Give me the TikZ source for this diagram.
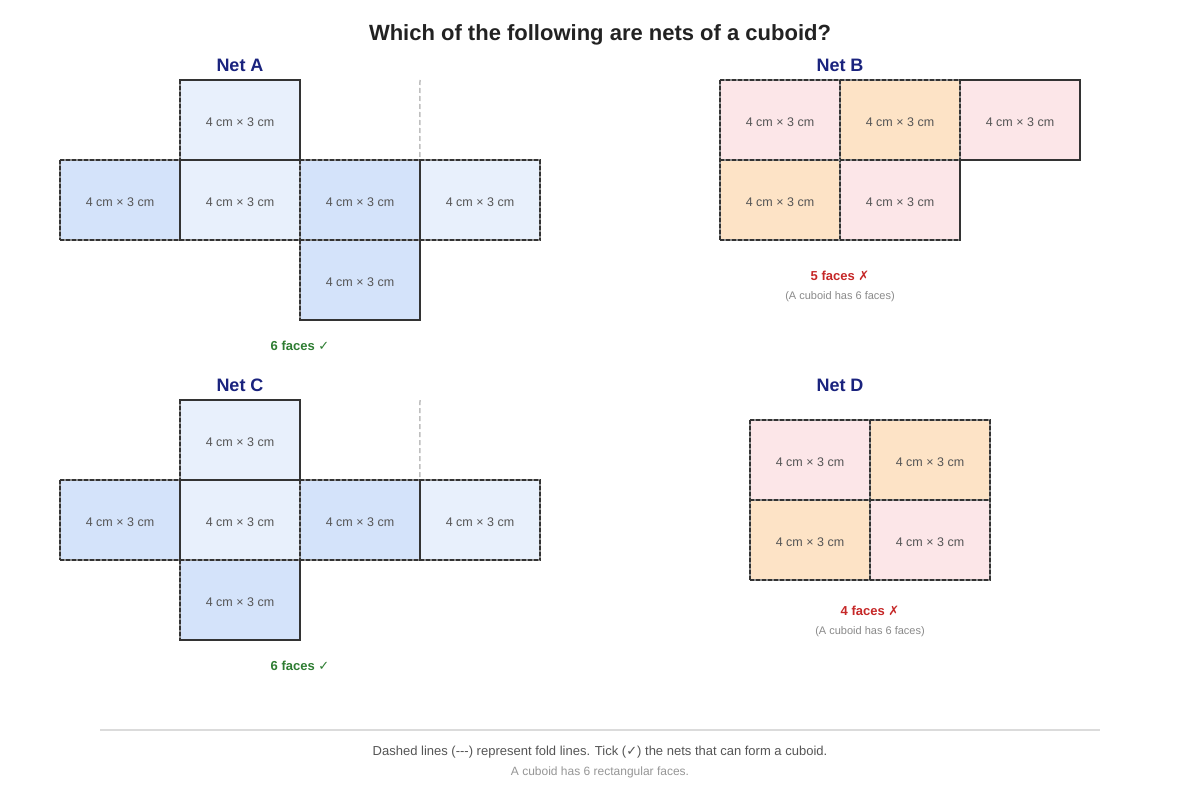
\documentclass[tikz,border=0pt]{standalone}
\usepackage{fontspec}
\setmainfont{Liberation Sans}
\newfontfamily\symfont{DejaVu Sans}
\definecolor{titlecol}{HTML}{222222}
\definecolor{netcol}{HTML}{1A237E}
\definecolor{celltext}{HTML}{555555}
\definecolor{blueL}{HTML}{E8F0FC}
\definecolor{blueD}{HTML}{D4E3FA}
\definecolor{pinkc}{HTML}{FCE6E8}
\definecolor{peachc}{HTML}{FDE3C6}
\definecolor{okcol}{HTML}{2E7D32}
\definecolor{badcol}{HTML}{C62828}
\definecolor{notecol}{HTML}{8A8A8A}
\definecolor{footcol}{HTML}{555555}
\definecolor{edgedark}{HTML}{333333}
\definecolor{edgelight}{HTML}{8A8A8A}
\newcommand\foldedge[2]{\draw[foldbase] (#1) -- (#2); \draw[folddash] (#1) -- (#2);}
\newcommand\solidedge[2]{\draw[solidline] (#1) -- (#2);}
\begin{document}
\begin{tikzpicture}[x=1pt,y=-1pt,
  cell/.style={minimum width=120pt,minimum height=80pt,inner sep=0pt,text=celltext,font=\fontsize{12.5}{14}\selectfont,text height=13pt,text depth=0pt},
  foldbase/.style={draw=edgelight,line width=2pt},
  folddash/.style={draw=edgedark,line width=2pt,dash pattern=on 4pt off 2pt},
  solidline/.style={draw=edgedark,line width=2pt,line cap=rect},
  guide/.style={draw=black!25,line width=1.5pt,dash pattern=on 5pt off 3pt},
  netlabel/.style={text=netcol,font=\bfseries\fontsize{18}{20}\selectfont},
  okstyle/.style={text=okcol,font=\bfseries\fontsize{13}{15}\selectfont},
  badstyle/.style={text=badcol,font=\bfseries\fontsize{13}{15}\selectfont},
  notestyle/.style={text=notecol,font=\fontsize{11}{13}\selectfont}]
\useasboundingbox[fill=white] (0,0) rectangle (1200,800);

\node[text=titlecol,font=\bfseries\fontsize{22}{26}\selectfont] (title) at (600,35) {Which of the following are nets of a cuboid?};

% ---------- Net A ----------
\node[netlabel] (labA) at (240,65) {Net A};
\node[cell,fill=blueL] (a1) at (240,120) {4 cm × 3 cm};
\node[cell,fill=blueD] (a2) at (120,200) {4 cm × 3 cm};
\node[cell,fill=blueL] (a3) at (240,200) {4 cm × 3 cm};
\node[cell,fill=blueD] (a4) at (360,200) {4 cm × 3 cm};
\node[cell,fill=blueL] (a5) at (480,200) {4 cm × 3 cm};
\node[cell,fill=blueD] (a6) at (360,280) {4 cm × 3 cm};
\coordinate (ag) at (420,80);
\draw[guide] (ag) -- (a5.north west);
\foldedge{a1.north west}{a1.south west}
\foldedge{a2.north west}{a2.north east}
\foldedge{a2.north west}{a2.south west}
\foldedge{a2.south west}{a3.south east}
\foldedge{a4.north west}{a5.north east}
\foldedge{a4.north west}{a4.south west}
\foldedge{a5.south west}{a5.south east}
\foldedge{a5.north east}{a5.south east}
\foldedge{a6.north west}{a6.north east}
\foldedge{a6.north west}{a6.south west}
\solidedge{a1.north west}{a1.north east}
\solidedge{a1.north east}{a1.south east}
\solidedge{a1.south west}{a1.south east}
\solidedge{a2.north east}{a2.south east}
\solidedge{a4.north east}{a4.south east}
\solidedge{a6.north east}{a6.south east}
\solidedge{a6.south west}{a6.south east}
\node[okstyle] (okA) at (300,346) {6 faces {\symfont\mdseries ✓}};

% ---------- Net B ----------
\node[netlabel] (labB) at (840,65) {Net B};
\node[cell,fill=pinkc] (b1) at (780,120) {4 cm × 3 cm};
\node[cell,fill=peachc] (b2) at (900,120) {4 cm × 3 cm};
\node[cell,fill=pinkc] (b3) at (1020,120) {4 cm × 3 cm};
\node[cell,fill=peachc] (b4) at (780,200) {4 cm × 3 cm};
\node[cell,fill=pinkc] (b5) at (900,200) {4 cm × 3 cm};
\foldedge{b1.north west}{b2.north east}
\foldedge{b1.north west}{b4.south west}
\foldedge{b1.north east}{b4.south east}
\foldedge{b2.north east}{b2.south east}
\foldedge{b1.south west}{b2.south east}
\foldedge{b4.south west}{b5.south east}
\solidedge{b3.north west}{b3.north east}
\solidedge{b3.north east}{b3.south east}
\solidedge{b3.south west}{b3.south east}
\solidedge{b5.north east}{b5.south east}
\node[badstyle] (badB) at (840,276) {5 faces {\symfont ✗}};
\node[notestyle] (noteB) at (840,297) {(A cuboid has 6 faces)};

% ---------- Net C ----------
\node[netlabel] (labC) at (240,385) {Net C};
\node[cell,fill=blueL] (c1) at (240,440) {4 cm × 3 cm};
\node[cell,fill=blueD] (c2) at (120,520) {4 cm × 3 cm};
\node[cell,fill=blueL] (c3) at (240,520) {4 cm × 3 cm};
\node[cell,fill=blueD] (c4) at (360,520) {4 cm × 3 cm};
\node[cell,fill=blueL] (c5) at (480,520) {4 cm × 3 cm};
\node[cell,fill=blueD] (c6) at (240,600) {4 cm × 3 cm};
\coordinate (cg) at (420,400);
\draw[guide] (cg) -- (c5.north west);
\foldedge{c1.north west}{c1.south west}
\foldedge{c2.north west}{c2.north east}
\foldedge{c2.north west}{c2.south west}
\foldedge{c2.south west}{c5.south east}
\foldedge{c4.north west}{c5.north east}
\foldedge{c4.north west}{c4.south west}
\foldedge{c5.north east}{c5.south east}
\foldedge{c6.north west}{c6.south west}
\solidedge{c1.north west}{c1.north east}
\solidedge{c1.north east}{c1.south east}
\solidedge{c1.south west}{c1.south east}
\solidedge{c2.north east}{c2.south east}
\solidedge{c4.north east}{c4.south east}
\solidedge{c6.north east}{c6.south east}
\solidedge{c6.south west}{c6.south east}
\node[okstyle] (okC) at (300,666) {6 faces {\symfont\mdseries ✓}};

% ---------- Net D ----------
\node[netlabel] (labD) at (840,385) {Net D};
\node[cell,fill=pinkc] (d1) at (810,460) {4 cm × 3 cm};
\node[cell,fill=peachc] (d2) at (930,460) {4 cm × 3 cm};
\node[cell,fill=peachc] (d3) at (810,540) {4 cm × 3 cm};
\node[cell,fill=pinkc] (d4) at (930,540) {4 cm × 3 cm};
\foldedge{d1.north west}{d2.north east}
\foldedge{d1.south west}{d2.south east}
\foldedge{d3.south west}{d4.south east}
\foldedge{d1.north west}{d3.south west}
\foldedge{d1.north east}{d3.south east}
\foldedge{d2.north east}{d4.south east}
\node[badstyle] (badD) at (870,611) {4 faces {\symfont ✗}};
\node[notestyle] (noteD) at (870,632) {(A cuboid has 6 faces)};

% ---------- footer ----------
\coordinate (sepL) at (100,730);
\coordinate (sepR) at (1100,730);
\draw[draw=black!14,line width=2pt] (sepL) -- (sepR);
\node[text=footcol,font=\fontsize{13}{15}\selectfont] (foot1) at (600,752) {Dashed lines (-{}-{}-) represent fold lines. Tick ({\symfont ✓}) the nets that can form a cuboid.};
\node[text=notecol!90,font=\fontsize{12}{14}\selectfont] (foot2) at (600,772) {A cuboid has 6 rectangular faces.};
\end{tikzpicture}
\end{document}
